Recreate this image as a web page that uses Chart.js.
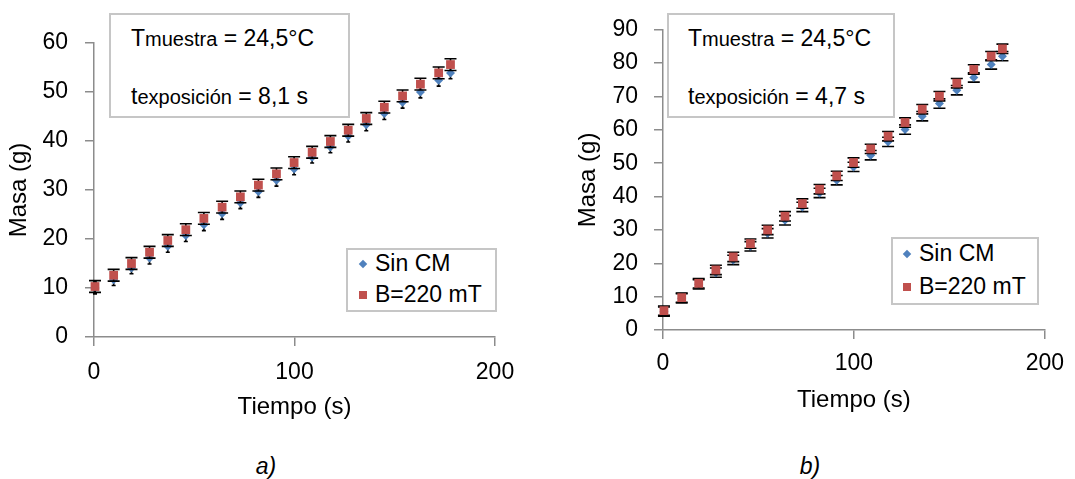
<!DOCTYPE html>
<html>
<head>
<meta charset="utf-8">
<script src="https://cdn.jsdelivr.net/npm/chart.js@4.4.1/dist/chart.umd.min.js"></script>
<style>
  body { margin: 0; background: #fff; width: 1075px; height: 479px; position: relative; overflow: hidden;
         font-family: 'Liberation Sans', Arial, sans-serif; color: #000; }
  canvas { position: absolute; top: 0; }
  .box { position: absolute; border: 2px solid #c6c6c6; background: #fff; box-sizing: border-box; }
  .line { position: absolute; font-size: 23px; line-height: 23px; white-space: nowrap; }
  .sub { font-size: 20px; }
  .mk { position: absolute; }
  .cap { position: absolute; font-size: 23px; font-style: italic; line-height: 23px; transform: translateX(-50%); }
</style>
</head>
<body>
<canvas id="chartA" width="540" height="430" style="left:0"></canvas>
<canvas id="chartB" width="515" height="430" style="left:560px"></canvas>

<!-- annotation boxes -->
<div class="box" style="left:109px;top:13px;width:241px;height:105px"></div>
<div class="line" style="left:131px;top:27px">T<span class="sub">muestra</span> = 24,5°C</div>
<div class="line" style="left:131px;top:85px">t<span class="sub">exposición</span> = 8,1 s</div>

<div class="box" style="left:667px;top:13px;width:228px;height:105px"></div>
<div class="line" style="left:688px;top:27px">T<span class="sub">muestra</span> = 24,5°C</div>
<div class="line" style="left:688px;top:85px">t<span class="sub">exposición</span> = 4,7 s</div>

<!-- legends -->
<div class="box" style="left:346px;top:248px;width:151px;height:64px"></div>
<div class="mk" style="left:360px;top:261px;width:6px;height:6px;background:#4F81BD;transform:rotate(45deg)"></div>
<div class="line" style="left:375px;top:252px">Sin CM</div>
<div class="mk" style="left:359px;top:291px;width:8px;height:8px;background:#C0504D"></div>
<div class="line" style="left:375px;top:283px">B=220 mT</div>

<div class="box" style="left:891px;top:237px;width:148px;height:68px"></div>
<div class="mk" style="left:904px;top:251px;width:6px;height:6px;background:#4F81BD;transform:rotate(45deg)"></div>
<div class="line" style="left:919px;top:242px">Sin CM</div>
<div class="mk" style="left:903px;top:283px;width:8px;height:8px;background:#C0504D"></div>
<div class="line" style="left:919px;top:275px">B=220 mT</div>

<div class="cap" style="left:266px;top:455px">a)</div>
<div class="cap" style="left:810px;top:455px">b)</div>

<script>
// tiempo (s), same sampling in both panels
const tiempo = [0.5, 9.8, 18.7, 27.7, 36.8, 45.8, 54.8, 63.9, 73, 82, 91, 99.8, 108.8, 117.9, 126.8, 135.8, 144.8, 153.9, 162.8, 171.9, 177.8];

// a) exposición 8,1 s
const sinCM_a = [10.0, 11.7, 14.1, 16.1, 18.5, 20.7, 22.9, 25.2, 27.4, 29.7, 32.0, 34.3, 36.7, 38.8, 41.0, 43.3, 45.6, 47.9, 50.0, 52.4, 53.9];
const b220_a  = [10.3, 12.6, 15.0, 17.3, 19.7, 21.9, 24.2, 26.5, 28.6, 31.0, 33.3, 35.6, 37.7, 39.9, 42.2, 44.6, 46.9, 49.2, 51.6, 53.9, 55.6];
const errSin_a = 1.2;
const errB_a = 1.2;

// b) exposición 4,7 s
const sinCM_b = [5.5, 9.5, 13.7, 17.2, 21.0, 25.1, 29.0, 32.9, 36.9, 41.1, 44.9, 48.9, 52.4, 56.4, 60.1, 64.1, 67.9, 71.9, 75.7, 79.6, 82.1];
const b220_b  = [5.8, 9.7, 14.0, 18.0, 21.9, 25.9, 30.0, 34.1, 37.9, 42.2, 46.2, 50.2, 54.3, 58.1, 62.2, 66.2, 70.1, 74.0, 78.1, 82.1, 84.3];
const errSin_b = 1.4;
const errB_b = 1.4;

const xTicks = [0, 100, 200];
const yMaxA = 60, yMaxB = 90;

const AXIS = '#8c8c8c';
const TICK_FONT = { family: "'Liberation Sans', Arial, sans-serif", size: 23 };
const TITLE_FONT = { family: "'Liberation Sans', Arial, sans-serif", size: 24 };

// error bars drawn just before each series' markers
const errorBars = {
  id: 'errorBars',
  beforeDatasetDraw(chart, args) {
    const ds = chart.data.datasets[args.index];
    if (!ds.err) return;
    const { ctx, scales: { x, y } } = chart;
    ctx.save();
    ctx.strokeStyle = '#000';
    ctx.lineWidth = 1.6;
    ds.data.forEach(p => {
      const px = x.getPixelForValue(p.x);
      const top = y.getPixelForValue(p.y + ds.err);
      const bot = y.getPixelForValue(p.y - ds.err);
      ctx.beginPath();
      ctx.moveTo(px, top); ctx.lineTo(px, bot);
      ctx.moveTo(px - ds.capW, top); ctx.lineTo(px + ds.capW, top);
      ctx.moveTo(px - ds.capW, bot); ctx.lineTo(px + ds.capW, bot);
      ctx.stroke();
    });
    ctx.restore();
  }
};

function makeChart(id, sinVals, bVals, errSin, errB, capSin, yMax, lay) {
  const pts = vals => vals.map((v, i) => ({ x: tiempo[i], y: v }));
  return new Chart(document.getElementById(id), {
    type: 'scatter',
    data: {
      datasets: [
        { label: 'Sin CM', data: pts(sinVals), err: errSin, capW: capSin, order: 2,
          pointStyle: 'rectRot', pointRadius: 4.5, backgroundColor: '#4F81BD', borderColor: '#4F81BD', borderWidth: 0, clip: false },
        { label: 'B=220 mT', data: pts(bVals), err: errB, capW: 6, order: 1,
          pointStyle: 'rect', pointRadius: 6.2, backgroundColor: '#C0504D', borderColor: '#C0504D', borderWidth: 0, clip: false }
      ]
    },
    options: {
      responsive: false,
      animation: false,
      layout: { padding: { left: 0, top: lay.top, right: lay.right, bottom: 0 } },
      plugins: { legend: { display: false }, tooltip: { enabled: false } },
      scales: {
        x: {
          type: 'linear', min: 0, max: 200,
          afterBuildTicks: s => { s.ticks = xTicks.map(v => ({ value: v })); },
          afterFit: s => { s.height = lay.xH; },
          ticks: { color: '#000', font: TICK_FONT, padding: lay.xPad, maxRotation: 0 },
          grid: { drawOnChartArea: false, tickLength: 9, color: AXIS, lineWidth: 1.5 },
          border: { color: AXIS, width: 1.5 },
          title: { display: true, text: 'Tiempo (s)', color: '#000', font: TITLE_FONT, padding: { top: 0, bottom: lay.xTitlePad } }
        },
        y: {
          type: 'linear', min: 0, max: yMax,
          afterFit: s => { s.width = lay.yW; },
          ticks: { stepSize: 10, color: '#000', font: TICK_FONT, padding: lay.yPad },
          grid: { drawOnChartArea: false, tickLength: 9, color: AXIS, lineWidth: 1.5 },
          border: { color: AXIS, width: 1.5 },
          title: { display: true, text: 'Masa (g)', color: '#000', font: TITLE_FONT, padding: { top: lay.yTitlePad, bottom: 0 } }
        }
      }
    },
    plugins: [errorBars]
  });
}

makeChart('chartA', sinCM_a, b220_a, errSin_a, errB_a, 2, yMaxA,
  { top: 43, right: 45, xH: 93, yW: 94, xPad: 13, yPad: 17, xTitlePad: 8, yTitlePad: 5 });
makeChart('chartB', sinCM_b, b220_b, errSin_b, errB_b, 6, yMaxB,
  { top: 29, right: 23, xH: 100, yW: 103, xPad: 11, yPad: 16, xTitlePad: 15, yTitlePad: 14 });
</script>
</body>
</html>
